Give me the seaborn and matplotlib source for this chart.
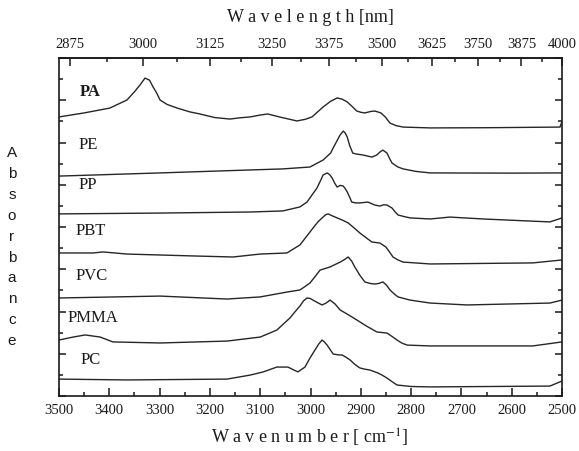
import numpy as np
import pandas as pd
import matplotlib
matplotlib.use("Agg")
import matplotlib.pyplot as plt
from matplotlib.ticker import MultipleLocator, FixedLocator, NullFormatter
import seaborn as sns

# spectra: wavenumber [cm-1] and absorbance (arbitrary units, stacked)
pa_wn = [3500, 3450, 3399, 3365, 3350, 3339, 3329, 3320, 3313, 3306, 3299, 3285, 3265, 3240, 3220,
         3190, 3160, 3140, 3120, 3100, 3085, 3060, 3027, 3010, 2997, 2975, 2960, 2947, 2937, 2927,
         2917, 2908, 2900, 2892, 2880, 2872, 2860, 2851, 2842, 2830, 2816, 2762, 2650, 2504, 2500]
pa_ab = [13.21, 13.40, 13.63, 14.01, 14.40, 14.72, 15.05, 14.95, 14.63, 14.35, 14.01, 13.80, 13.63, 13.45, 13.35,
         13.18, 13.11, 13.17, 13.21, 13.30, 13.35, 13.20, 13.02, 13.10, 13.21, 13.68, 13.95, 14.11, 14.05, 13.92,
         13.70, 13.49, 13.43, 13.40, 13.47, 13.49, 13.40, 13.20, 12.92, 12.80, 12.73, 12.69, 12.70, 12.73, 13.00]

pe_wn = [3500, 3299, 3120, 3055, 3001, 2975, 2960, 2955, 2948, 2941, 2935, 2931, 2927, 2922, 2916,
         2910, 2896, 2878, 2868, 2862, 2856, 2848, 2844, 2838, 2827, 2816, 2790, 2762, 2600, 2500]
pe_ab = [10.41, 10.56, 10.70, 10.75, 10.84, 11.17, 11.50, 11.74, 12.05, 12.36, 12.54, 12.45, 12.26, 11.85, 11.50,
         11.46, 11.41, 11.31, 11.41, 11.55, 11.64, 11.50, 11.30, 11.03, 10.85, 10.75, 10.63, 10.56, 10.55, 10.56]

pp_wn = [3500, 3299, 3120, 3055, 3021, 3007, 2987, 2980, 2975, 2967, 2962, 2957, 2952, 2947, 2941,
         2935, 2931, 2927, 2922, 2918, 2910, 2902, 2886, 2872, 2862, 2855, 2848, 2838, 2832, 2826,
         2815, 2802, 2762, 2723, 2657, 2524, 2500]
pp_ab = [8.62, 8.66, 8.71, 8.76, 8.95, 9.18, 9.85, 10.20, 10.46, 10.56, 10.48, 10.32, 10.08, 9.89, 9.97,
         9.94, 9.82, 9.66, 9.40, 9.18, 9.14, 9.14, 9.18, 9.04, 8.99, 9.05, 9.04, 8.90, 8.72, 8.57,
         8.50, 8.43, 8.38, 8.47, 8.38, 8.24, 8.43]

pbt_wn = [3500, 3432, 3413, 3365, 3234, 3154, 3100, 3047, 3021, 3008, 2995, 2985, 2975, 2970, 2965,
          2956, 2947, 2936, 2925, 2913, 2902, 2890, 2878, 2862, 2850, 2843, 2836, 2826, 2816, 2762,
          2558, 2500]
pbt_ab = [6.77, 6.77, 6.82, 6.72, 6.63, 6.58, 6.72, 6.77, 7.15, 7.55, 7.95, 8.25, 8.47, 8.58, 8.62,
          8.52, 8.43, 8.32, 8.19, 7.95, 7.72, 7.50, 7.29, 7.24, 7.05, 6.82, 6.58, 6.44, 6.34, 6.25,
          6.30, 6.44]

pvc_wn = [3500, 3299, 3166, 3100, 3047, 3021, 3011, 3001, 2991, 2981, 2961, 2941, 2933, 2925, 2918,
          2912, 2902, 2892, 2882, 2872, 2864, 2856, 2849, 2842, 2834, 2826, 2802, 2762, 2689, 2524, 2500]
pvc_ab = [4.64, 4.73, 4.59, 4.69, 4.92, 5.02, 5.18, 5.35, 5.65, 5.96, 6.11, 6.34, 6.45, 6.58, 6.38,
          6.11, 5.72, 5.40, 5.33, 5.30, 5.33, 5.40, 5.25, 5.02, 4.84, 4.69, 4.54, 4.40, 4.31, 4.40, 4.54]

pmma_wn = [3500, 3472, 3448, 3418, 3393, 3299, 3166, 3100, 3067, 3041, 3031, 3021, 3014, 3007, 3001,
           2995, 2986, 2977, 2969, 2961, 2951, 2941, 2925, 2908, 2888, 2868, 2848, 2838, 2828, 2818,
           2808, 2762, 2558, 2500]
pmma_ab = [2.65, 2.79, 2.89, 2.79, 2.56, 2.51, 2.60, 2.79, 3.12, 3.69, 3.98, 4.26, 4.50, 4.64, 4.62,
           4.54, 4.42, 4.31, 4.40, 4.54, 4.35, 4.07, 3.85, 3.60, 3.30, 3.03, 2.98, 2.82, 2.65, 2.50,
           2.41, 2.37, 2.37, 2.56]

pc_wn = [3500, 3365, 3166, 3120, 3094, 3067, 3045, 3025, 3011, 3001, 2991, 2984, 2977, 2972, 2967,
         2961, 2955, 2946, 2937, 2929, 2921, 2912, 2902, 2892, 2882, 2866, 2857, 2848, 2838, 2828,
         2800, 2762, 2524, 2500]
pc_ab = [0.80, 0.76, 0.80, 0.99, 1.14, 1.37, 1.37, 1.14, 1.37, 1.80, 2.18, 2.45, 2.65, 2.55, 2.41,
         2.20, 1.99, 1.95, 1.94, 1.83, 1.70, 1.50, 1.33, 1.27, 1.23, 1.09, 0.98, 0.85, 0.68, 0.52,
         0.45, 0.43, 0.47, 0.71]

polymers = ["PA", "PE", "PP", "PBT", "PVC", "PMMA", "PC"]
spectra = [(pa_wn, pa_ab), (pe_wn, pe_ab), (pp_wn, pp_ab), (pbt_wn, pbt_ab),
           (pvc_wn, pvc_ab), (pmma_wn, pmma_ab), (pc_wn, pc_ab)]
# label anchor (wavenumber, absorbance) for each polymer name
label_wn = [3458, 3462, 3462, 3468, 3468, 3484, 3458]
label_ab = [14.4, 11.9, 10.0, 7.8, 5.7, 3.7, 1.7]

wl_major = [2875, 3000, 3125, 3250, 3375, 3500, 3625, 3750, 3875, 4000]
wl_minor = [2937.5, 3062.5, 3187.5, 3312.5, 3437.5, 3562.5, 3687.5, 3812.5, 3937.5]

sns.set_style("ticks")
plt.rcParams["font.family"] = ["Liberation Serif", "DejaVu Serif"]
plt.rcParams["mathtext.fontset"] = "stix"

fig = plt.figure(figsize=(5.79, 4.51), dpi=100)
ax = fig.add_axes([59 / 579, 55 / 451, 503 / 579, 338 / 451])

for name, (wn, ab) in zip(polymers, spectra):
    df = pd.DataFrame({"wavenumber": wn, "absorbance": ab})
    sns.lineplot(data=df, x="wavenumber", y="absorbance", sort=False, ax=ax,
                 color="#262626", lw=1.0, estimator=None, solid_joinstyle="round")

for name, x, y in zip(polymers, label_wn, label_ab):
    ax.text(x, y, name, fontsize=12, ha="left", va="center", color="#1a1a1a",
            fontweight="bold" if name == "PA" else "normal")

ax.set_xlim(3500, 2500)
ax.set_ylim(0, 16)
ax.set_xlabel("")
ax.set_ylabel("")

ax.xaxis.set_major_locator(MultipleLocator(100))
ax.xaxis.set_minor_locator(MultipleLocator(50))
ax.yaxis.set_major_locator(MultipleLocator(2))
ax.yaxis.set_minor_locator(MultipleLocator(1))
ax.yaxis.set_major_formatter(NullFormatter())
ax.tick_params(axis="both", which="both", direction="in", colors="#1a1a1a", width=1.1)
ax.tick_params(axis="x", which="major", length=6, labelsize=10.5, pad=6)
ax.tick_params(axis="x", which="minor", length=3)
ax.tick_params(axis="y", which="major", length=5, left=True, right=True)
ax.tick_params(axis="y", which="minor", length=3, left=True, right=True)
for s in ax.spines.values():
    s.set_linewidth(1.2)
    s.set_color("#1a1a1a")

top = ax.secondary_xaxis("top", functions=(lambda w: 1e7 / np.maximum(w, 1e-9),
                                           lambda l: 1e7 / np.maximum(l, 1e-9)))
top.xaxis.set_major_locator(FixedLocator(wl_major))
top.xaxis.set_minor_locator(FixedLocator(wl_minor))
top.tick_params(axis="x", which="both", direction="in", colors="#1a1a1a", width=1.1)
top.tick_params(axis="x", which="major", length=6, labelsize=10.5, pad=5)
top.tick_params(axis="x", which="minor", length=3)
top.spines["top"].set_linewidth(1.2)

fig.text(310 / 579, 1 - 18 / 451, "W a v e l e n g t h [nm]", ha="center", va="center",
         fontsize=13, color="#1a1a1a")
fig.text(310 / 579, 1 - 438 / 451, "W a v e n u m b e r [ cm$^{-1}$]", ha="center", va="center",
         fontsize=13, color="#1a1a1a")

for i, ch in enumerate("Absorbance"):
    fig.text(12 / 579, 1 - (153 + i * 20.9) / 451, ch, ha="center", va="center",
             fontsize=11, family=["Liberation Sans", "DejaVu Sans"], color="#1a1a1a")

fig.savefig("out.png", dpi=100)
